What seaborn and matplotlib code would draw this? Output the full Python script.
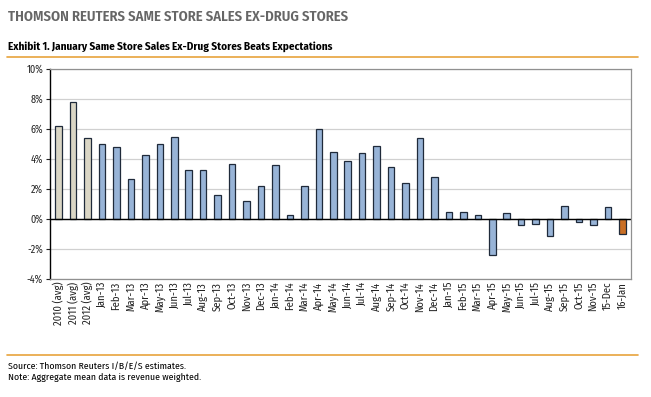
import matplotlib

matplotlib.use("Agg")

import matplotlib.pyplot as plt
import pandas as pd
import seaborn as sns
from matplotlib.lines import Line2D
from matplotlib.ticker import FuncFormatter, MultipleLocator

labels = [
    "2010 (avg)", "2011 (avg)", "2012 (avg)",
    "Jan-13", "Feb-13", "Mar-13", "Apr-13", "May-13", "Jun-13", "Jul-13", "Aug-13",
    "Sep-13", "Oct-13", "Nov-13", "Dec-13",
    "Jan-14", "Feb-14", "Mar-14", "Apr-14", "May-14", "Jun-14", "Jul-14", "Aug-14",
    "Sep-14", "Oct-14", "Nov-14", "Dec-14",
    "Jan-15", "Feb-15", "Mar-15", "Apr-15", "May-15", "Jun-15", "Jul-15", "Aug-15",
    "Sep-15", "Oct-15", "Nov-15", "15-Dec", "16-Jan",
]
values = [
    6.2, 7.8, 5.4,
    5.0, 4.8, 2.7, 4.3, 5.0, 5.5, 3.3, 3.3, 1.6, 3.7, 1.2, 2.2,
    3.6, 0.3, 2.2, 6.0, 4.5, 3.9, 4.4, 4.9, 3.5, 2.4, 5.4, 2.8,
    0.5, 0.5, 0.3, -2.4, 0.4, -0.4, -0.3, -1.1, 0.9, -0.2, -0.4, 0.8, -1.0,
]
kinds = ["avg"] * 3 + ["month"] * 36 + ["latest"]

colors = {"avg": "#ddd8c2", "month": "#8db3e2", "latest": "#e46c0a"}

sns.set_theme(style="white")
# condensed face first, plain sans as fallback
plt.rcParams["font.family"] = ["Fira Sans Condensed", "Liberation Sans", "DejaVu Sans"]

df = pd.DataFrame({"label": labels, "value": values, "kind": kinds})

fig = plt.figure(figsize=(6.51, 3.97), dpi=100)
ax = fig.add_axes([50 / 651, 1 - 279 / 397, 581 / 651, 210 / 397])

sns.barplot(
    data=df, x="label", y="value", hue="kind", palette=colors,
    width=0.45, dodge=False, legend=False, ax=ax,
    edgecolor="#1f2a3a", linewidth=0.9,
)

ax.set_ylim(-4, 10)
ax.yaxis.set_major_locator(MultipleLocator(2))
ax.yaxis.set_major_formatter(FuncFormatter(lambda v, _: f"{v:.0f}%"))
ax.grid(axis="y", color="#d0d0d0", lw=0.9)
ax.set_axisbelow(True)
ax.axhline(0, color="black", lw=1.0)
ax.set_xlabel("")
ax.set_ylabel("")
ax.set_xlim(-0.6, len(labels) - 0.4)
ax.tick_params(axis="x", labelrotation=90, labelsize=7.6, length=0, pad=2, colors="#222222")
ax.tick_params(axis="y", labelsize=7.3, length=3, left=True, width=0.8, pad=2, colors="#222222")
for side in ["top", "right", "bottom"]:
    ax.spines[side].set_color("#909090")
    ax.spines[side].set_linewidth(0.9)
ax.spines["left"].set_color("black")
ax.spines["left"].set_linewidth(1.0)

fig.text(8 / 651, 1 - 17 / 397, "THOMSON REUTERS SAME STORE SALES EX-DRUG STORES",
         fontsize=10.5, fontweight="semibold", color="#666666", va="center", ha="left")
fig.text(8 / 651, 1 - 47 / 397, "Exhibit 1. January Same Store Sales Ex-Drug Stores Beats Expectations",
         fontsize=8.0, fontweight="bold", color="black", va="center", ha="left")
fig.add_artist(Line2D([7 / 651, 638 / 651], [1 - 57 / 397] * 2, color="#e8a33c", lw=1.2))
fig.add_artist(Line2D([7 / 651, 638 / 651], [1 - 355 / 397] * 2, color="#e8a33c", lw=1.2))
fig.text(8 / 651, 1 - 366 / 397, "Source: Thomson Reuters I/B/E/S estimates.",
         fontsize=7.0, color="black", va="center", ha="left")
fig.text(8 / 651, 1 - 378 / 397, "Note: Aggregate mean data is revenue weighted.",
         fontsize=7.0, color="black", va="center", ha="left")

fig.savefig("out.png", dpi=100)
